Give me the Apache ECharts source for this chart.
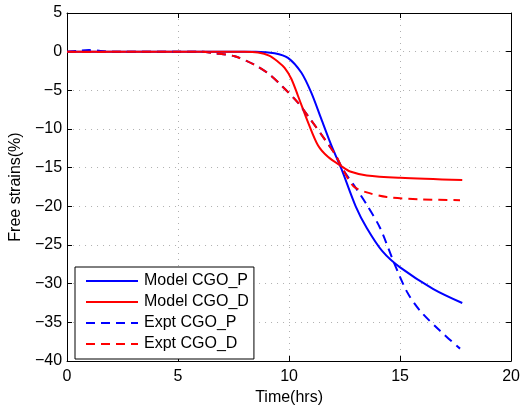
<!DOCTYPE html>
<html><head><meta charset="utf-8">
<script src="https://cdn.jsdelivr.net/npm/echarts@6/dist/echarts.min.js"></script>
<style>html,body{margin:0;padding:0;background:#fff}#c{width:523px;height:411px}</style>
</head><body><div id="c"></div>
<script>
var seriesNames = ['Model CGO_P', 'Model CGO_D', 'Expt CGO_P', 'Expt CGO_D'];
var modelP = [[0,0],[8.5,0],[9.35,-0.2],[9.95,-0.8],[10.55,-2.7],[11.0,-5.3],[11.45,-8.7],[11.9,-12.1],[12.35,-15.1],[13.0,-20.0],[13.5,-22.8],[14.2,-25.8],[15.0,-27.9],[16.5,-30.7],[17.8,-32.5]];
var modelD = [[0,0],[8,0],[8.6,-0.1],[9.1,-0.5],[9.5,-1.3],[9.8,-2.1],[10.1,-3.5],[10.4,-5.7],[10.85,-9.1],[11.3,-12.1],[11.75,-13.6],[12.35,-14.8],[12.75,-15.5],[13.5,-16.0],[15,-16.3],[17.8,-16.6]];
var exptP = [[0,0],[0.5,0.1],[1,0.2],[1.5,0.1],[2,0],[6.0,0],[6.65,-0.2],[7.55,-0.6],[8.45,-1.7],[9.1,-2.9],[9.7,-4.5],[10.4,-6.6],[11.0,-8.9],[11.6,-11.3],[12.1,-13.4],[12.4,-15.1],[13.0,-17.6],[13.5,-19.8],[14.1,-22.8],[14.7,-27.1],[15.3,-31],[15.9,-33.5],[16.8,-36.1],[17.7,-38.4]];
var exptD = [[0,0],[6.0,0],[6.65,-0.2],[7.55,-0.6],[8.45,-1.7],[9.1,-2.9],[9.7,-4.5],[10.4,-6.6],[11.0,-8.9],[11.6,-11.3],[12.1,-13.4],[12.4,-15.1],[12.9,-17.4],[13.5,-18.2],[14.4,-18.8],[16,-19.1],[17.7,-19.2]];
var xTicks = [0, 5, 10, 15, 20];
var yTicks = [5, 0, -5, -10, -15, -20, -25, -30, -35, -40];

var FONT = 'Liberation Sans, Arial, sans-serif';
function fmt(v){ return String(v).replace('-', '\u2212'); }
var chart = echarts.init(document.getElementById('c'));
function mk(name, data, color, dashed){
  return {name:name, type:'line', data:data, symbol:'none', showSymbol:false, smooth:0.3,
    lineStyle:{color:color, width:2, type: dashed ? [9,6] : 'solid'}, itemStyle:{color:color}, animation:false, z: 3};
}
function axisCommon(){ return {
  axisLine:{show:true, onZero:false, lineStyle:{color:'#000', width:1}},
  axisTick:{show:true, inside:true, length:5, lineStyle:{color:'#000'}}
};}
chart.setOption({
  animation:false,
  grid:{left:67, right:11, top:13, bottom:47, show:false},
  legend:{
    data: seriesNames.map(function(n){return {name:n};}),
    orient:'vertical', left:75, top:267,
    itemWidth:52, itemHeight:14, itemGap:5,
    padding:[6,5,7,10],
    borderColor:'#000', borderWidth:1, backgroundColor:'#fff',
    itemStyle:{opacity:0},
    textStyle:{fontFamily:FONT, fontSize:16, lineHeight:16, color:'#000', padding:[0,0,0,1]}
  },
  xAxis:[
    Object.assign({type:'value', min:0, max:20, interval:5, position:'bottom',
      name:'Time(hrs)', nameLocation:'middle', nameGap:29,
      nameTextStyle:{fontFamily:FONT, fontSize:16, color:'#000'},
      axisLabel:{fontFamily:FONT, fontSize:16, color:'#000', margin:8, formatter:fmt},
      splitLine:{show:true, lineStyle:{color:'#b0b0b0', type:[1,5], width:1}}}, axisCommon()),
    Object.assign({type:'value', min:0, max:20, interval:5, position:'top',
      axisLabel:{show:false}, splitLine:{show:false}}, axisCommon())
  ],
  yAxis:[
    Object.assign({type:'value', min:-40, max:5, interval:5, position:'left',
      name:'Free strains(%)', nameLocation:'middle', nameGap:42, nameRotate:90,
      nameTextStyle:{fontFamily:FONT, fontSize:16, color:'#000'},
      axisLabel:{fontFamily:FONT, fontSize:16, color:'#000', margin:5, formatter:fmt},
      splitLine:{show:true, lineStyle:{color:'#b0b0b0', type:[1,5], width:1}}}, axisCommon()),
    Object.assign({type:'value', min:-40, max:5, interval:5, position:'right',
      axisLabel:{show:false}, splitLine:{show:false}}, axisCommon())
  ],
  series:[
    mk(seriesNames[0], modelP, '#0000ff', false),
    mk(seriesNames[1], modelD, '#ff0000', false),
    mk(seriesNames[2], exptP, '#0000ff', true),
    mk(seriesNames[3], exptD, '#ff0000', true)
  ]
});
</script></body></html>
